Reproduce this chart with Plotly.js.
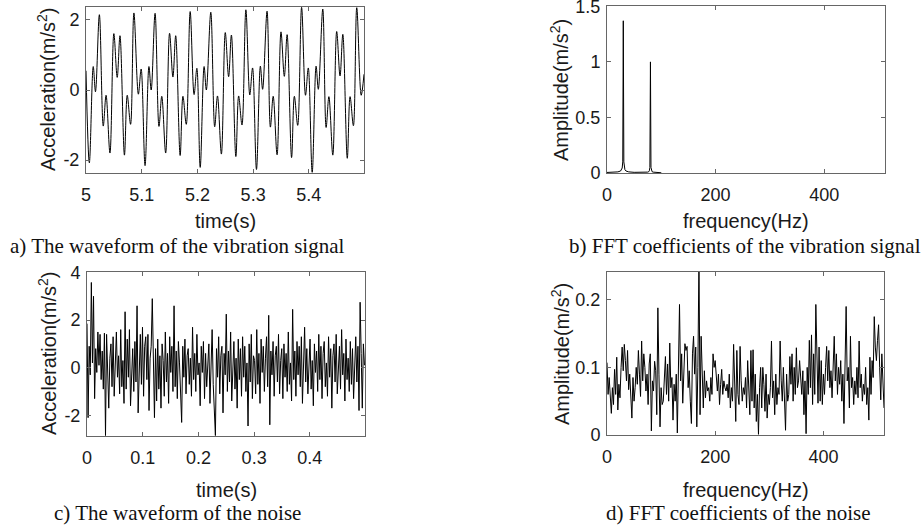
<!DOCTYPE html>
<html><head><meta charset="utf-8">
<script src="https://cdn.plot.ly/plotly-3.0.1.min.js"></script>
<style>html,body{margin:0;padding:0;background:#fff}#chart{width:922px;height:528px}</style>
</head><body><div id="chart"></div>
<script>
// a) vibration signal waveform: extrema (time in s, acceleration in m/s^2)
const vibTime = [5.000,5.006,5.013,5.017,5.024,5.031,5.036,5.043,5.050,5.056,5.061,5.069,5.074,5.080,5.086,5.094,5.099,
5.106,5.113,5.117,5.124,5.131,5.136,5.143,5.150,5.156,5.161,5.169,5.174,5.180,5.187,5.194,5.199,
5.205,5.212,5.216,5.224,5.231,5.236,5.243,5.250,5.256,5.261,5.269,5.274,5.280,5.287,5.294,5.299,
5.306,5.313,5.317,5.325,5.331,5.336,5.343,5.350,5.356,5.361,5.369,5.374,5.380,5.387,5.394,5.399,
5.406,5.413,5.417,5.425,5.431,5.436,5.443,5.450,5.456,5.461,5.469,5.474,5.480,5.486,5.494,5.499];
const vibAccel = [0.55,-2.08,0.67,-0.05,2.15,-1.03,-0.15,-1.80,1.61,0.36,1.55,-1.86,-0.15,-0.98,2.20,-0.12,0.60,
-2.16,0.67,0.00,2.19,-1.04,-0.18,-1.80,1.62,0.37,1.55,-1.87,-0.18,-0.98,2.24,-0.13,0.62,
-2.21,0.67,0.00,2.22,-1.05,-0.17,-1.83,1.64,0.38,1.57,-1.90,-0.17,-1.00,2.29,-0.14,0.63,
-2.27,0.68,0.02,2.25,-1.06,-0.18,-1.85,1.66,0.39,1.58,-1.93,-0.18,-1.01,2.36,-0.15,0.63,
-2.35,0.68,0.02,2.31,-1.07,-0.19,-1.86,1.67,0.40,1.59,-1.95,-0.19,-1.02,2.35,-0.15,0.45];

// b) FFT of the vibration signal
const vibFreq = [0,5,10,15,20,25,27,28,29,30,31,32,33,35,40,50,60,70,75,77,78,79,80,81,82,83,85,90,95,100];
const vibAmp  = [0.005,0.005,0.006,0.007,0.01,0.018,0.03,0.045,0.1,1.37,0.1,0.045,0.03,0.018,0.01,0.006,0.005,0.006,0.008,0.012,0.02,0.05,1.0,0.05,0.02,0.012,0.008,0.005,0.004,0.002];

// c) noise waveform (sampled every 0.5/256 s)
const noiseDuration = 0.5;
const noiseAccel = [
1.85,-2.1,0.9,-0.3,3.58,0.2,3.0,-1.3,0.8,-0.2,1.5,0.1,1.4,-0.5,0.7,-0.9,
1.45,-2.85,1.4,-0.3,-1.7,0.4,1.0,-0.8,1.3,-1.2,0.6,1.5,-0.4,0.5,-1.1,1.6,
-0.8,0.3,-1.5,2.35,-0.9,1.2,-0.4,1.6,-1.6,0.2,0.8,-1.0,1.1,-0.6,2.6,-1.9,
0.5,1.4,-0.7,1.7,-1.2,0.9,1.3,-0.5,1.4,-1.8,0.4,0.9,2.9,-0.3,-2.1,0.8,
-1.4,1.2,-0.9,0.5,-1.7,1.0,0.3,-1.2,1.5,-0.6,0.6,-1.5,1.3,-0.2,0.9,-1.0,
2.6,-0.8,0.7,-1.3,1.1,0.2,-0.9,-2.3,0.9,-0.4,1.2,-1.1,0.5,0.8,-0.7,0.4,
-1.2,1.7,-0.5,0.6,-1.0,1.4,-0.3,0.2,-1.6,0.9,-0.2,1.1,-1.3,0.6,-0.8,0.3,
1.0,-1.5,0.4,1.6,-0.7,-1.8,-2.85,0.8,-0.4,1.3,-1.1,0.5,0.9,-1.9,0.6,-0.3,
2.25,-1.0,0.7,-0.6,1.5,-1.4,0.3,1.1,-0.9,0.4,-1.7,1.2,-0.5,0.8,-1.2,1.3,
-0.4,0.9,-1.0,0.2,-2.45,1.0,-0.6,1.4,-1.3,0.5,0.3,-1.1,1.6,-0.7,0.6,-1.5,
1.2,-0.2,0.9,-1.0,0.4,1.3,-0.8,2.2,-2.4,0.7,-0.3,1.1,-1.2,0.5,0.9,-0.6,
1.4,-1.1,0.3,0.8,-1.3,1.0,-0.4,0.6,-1.0,1.5,-0.7,0.2,-1.4,2.45,-0.5,0.7,
-1.2,1.1,-0.3,0.9,-0.8,1.3,-1.5,0.4,1.7,-0.6,0.8,-1.1,0.5,1.2,-0.9,0.3,
-1.6,1.0,-0.2,0.7,-1.0,1.4,-0.5,0.9,-1.3,0.6,1.1,-0.8,0.2,-1.2,1.3,-0.4,
0.8,-1.7,0.5,1.0,-0.6,1.4,-1.1,0.3,0.9,-0.9,1.6,-0.3,0.6,-1.4,1.2,-0.5,
0.4,-1.0,1.1,-0.7,0.8,-1.3,0.5,1.3,-0.6,0.9,-1.8,2.75,0.6,-1.7,1.0,0.1];

// d) FFT of the noise (2 Hz bins, 0..512 Hz)
const noiseFreqStep = 2;
const noiseAmp = [
0.107,0.06,0.085,0.05,0.032,0.07,0.045,0.097,0.06,0.115,0.037,0.075,0.055,0.1,0.13,0.095,
0.134,0.11,0.08,0.125,0.067,0.09,0.06,0.025,0.085,0.05,0.07,0.1,0.075,0.125,0.09,0.057,
0.139,0.08,0.12,0.1,0.065,0.09,0.045,0.105,0.12,0.006,0.08,0.065,0.109,0.095,0.03,0.188,
0.09,0.012,0.07,0.045,0.05,0.09,0.116,0.06,0.105,0.05,0.136,0.07,0.085,0.022,0.075,0.05,
0.09,0.003,0.11,0.193,0.08,0.12,0.047,0.1,0.135,0.125,0.131,0.07,0.095,0.05,0.017,0.12,
0.146,0.09,0.13,0.012,0.1,0.26,0.03,0.146,0.08,0.04,0.095,0.055,0.08,0.065,0.07,0.05,
0.085,0.06,0.12,0.1,0.11,0.08,0.065,0.09,0.045,0.075,0.097,0.06,0.08,0.07,0.065,0.075,
0.055,0.09,0.04,0.07,0.05,0.134,0.065,0.02,0.125,0.06,0.045,0.131,0.08,0.05,0.07,0.06,
0.085,0.04,0.11,0.065,0.03,0.125,0.05,0.126,0.04,0.09,0.02,0.06,0.001,0.07,0.1,0.04,
0.1,0.075,0.035,0.09,0.025,0.06,0.045,0.07,0.139,0.055,0.08,0.03,0.09,0.045,0.07,0.06,
0.139,0.08,0.05,0.1,0.04,0.007,0.09,0.05,0.06,0.116,0.075,0.12,0.05,0.1,0.06,0.129,
0.07,0.08,0.11,0.09,0.06,0.095,0.03,0.08,0.002,0.1,0.06,0.14,0.07,0.148,0.045,0.12,
0.06,0.193,0.1,0.047,0.13,0.05,0.11,0.045,0.09,0.06,0.1,0.131,0.08,0.125,0.07,0.095,
0.055,0.11,0.146,0.08,0.12,0.06,0.1,0.075,0.11,0.05,0.09,0.017,0.11,0.19,0.08,0.1,
0.04,0.146,0.07,0.085,0.045,0.08,0.06,0.1,0.055,0.139,0.07,0.09,0.05,0.075,0.06,0.1,
0.045,0.07,0.022,0.115,0.06,0.11,0.085,0.175,0.13,0.11,0.14,0.163,0.1,0.052,0.12,0.089,
0.04];

const xTicksA = [5,5.1,5.2,5.3,5.4];
const xTicksC = [0,0.1,0.2,0.3,0.4];
const xTicksF = [0,200,400];
const yTicksA = [-2,0,2];
const yTicksB = [0,0.5,1,1.5];
const yTicksC = [-2,0,2,4];
const yTicksD = [0,0.1,0.2];

const noiseTime = noiseAccel.map((_, i) => i * noiseDuration / noiseAccel.length);
const noiseFreq = noiseAmp.map((_, i) => i * noiseFreqStep);

const W = 922, H = 528;
const dx = (a, b) => [a / W, b / W];
const dy = (top, bottom) => [(H - bottom) / H, (H - top) / H];

const lineStyle = {color: '#000', width: 1};
const traces = [
  {x: vibTime, y: vibAccel, xaxis: 'x', yaxis: 'y', type: 'scatter', mode: 'lines', line: Object.assign({shape: 'spline', smoothing: 1}, lineStyle)},
  {x: vibFreq, y: vibAmp, xaxis: 'x2', yaxis: 'y2', type: 'scatter', mode: 'lines', line: lineStyle},
  {x: noiseTime, y: noiseAccel, xaxis: 'x3', yaxis: 'y3', type: 'scatter', mode: 'lines', line: lineStyle},
  {x: noiseFreq, y: noiseAmp, xaxis: 'x4', yaxis: 'y4', type: 'scatter', mode: 'lines', line: lineStyle}
];

const sans = 'Liberation Sans, Arial, sans-serif';
const tickFont = {family: sans, size: 18, color: '#1a1a1a'};
const titleFont = {family: sans, size: 20, color: '#1a1a1a'};
function ax(domain, range, tickvals, anchor, isX) {
  return {
    domain: domain, range: range, anchor: anchor,
    tickmode: 'array', tickvals: tickvals, ticktext: tickvals.map(String),
    ticks: 'inside', ticklen: 4, tickcolor: '#666', tickwidth: 1,
    showline: true, linecolor: '#666', linewidth: 1, mirror: 'ticks',
    showgrid: false, zeroline: false, tickfont: tickFont,
    ticklabeloverflow: 'allow', ticklabelstandoff: isX ? 5 : 2
  };
}

// axis titles and captions as positioned texts [text, x px, y px, angle, font]
const serifFont = {family: 'Liberation Serif, Times New Roman, serif', size: 21, color: '#111'};
const texts = [
  ['time(s)', 225, 221, 0, titleFont],
  ['frequency(Hz)', 746, 221, 0, titleFont],
  ['time(s)', 226, 490, 0, titleFont],
  ['frequency(Hz)', 746, 490, 0, titleFont],
  ['Acceleration(m/s<sup>2</sup>)', 47, 90, -90, titleFont],
  ['Amplitude(m/s<sup>2</sup>)', 560, 90, -90, titleFont],
  ['Acceleration(m/s<sup>2</sup>)', 47, 354, -90, titleFont],
  ['Amplitude(m/s<sup>2</sup>)', 560, 354, -90, titleFont],
  ['a) The waveform of the vibration signal', 177, 246, 0, serifFont],
  ['b) FFT coefficients of the vibration signal', 745, 246, 0, serifFont],
  ['c) The waveform of the noise', 177, 513, 0, serifFont],
  ['d) FFT coefficients of the noise', 738, 513, 0, serifFont]
];

const layout = {
  width: W, height: H,
  margin: {l: 0, r: 0, t: 0, b: 0},
  paper_bgcolor: '#fff', plot_bgcolor: '#fff',
  showlegend: false,
  xaxis:  ax(dx(86, 364), [5, 5.499], xTicksA, 'y', true),
  yaxis:  ax(dy(7, 173), [-2.37, 2.37], yTicksA, 'x', false),
  xaxis2: ax(dx(607, 885), [0, 512], xTicksF, 'y2', true),
  yaxis2: ax(dy(6, 173), [0, 1.503], yTicksB, 'x2', false),
  xaxis3: ax(dx(87, 365), [0, 0.499], xTicksC, 'y3', true),
  yaxis3: ax(dy(272, 436), [-2.87, 4.02], yTicksC, 'x3', false),
  xaxis4: ax(dx(607, 884), [0, 512], xTicksF, 'y4', true),
  yaxis4: ax(dy(272, 435), [0, 0.241], yTicksD, 'x4', false),
  annotations: texts.map(t => ({
    text: t[0], x: t[1] / W, y: 1 - t[2] / H, textangle: t[3], font: t[4],
    xref: 'paper', yref: 'paper', xanchor: 'center', yanchor: 'middle', showarrow: false
  }))
};

Plotly.newPlot('chart', traces, layout, {displayModeBar: false, staticPlot: true});
</script>
</body></html>
